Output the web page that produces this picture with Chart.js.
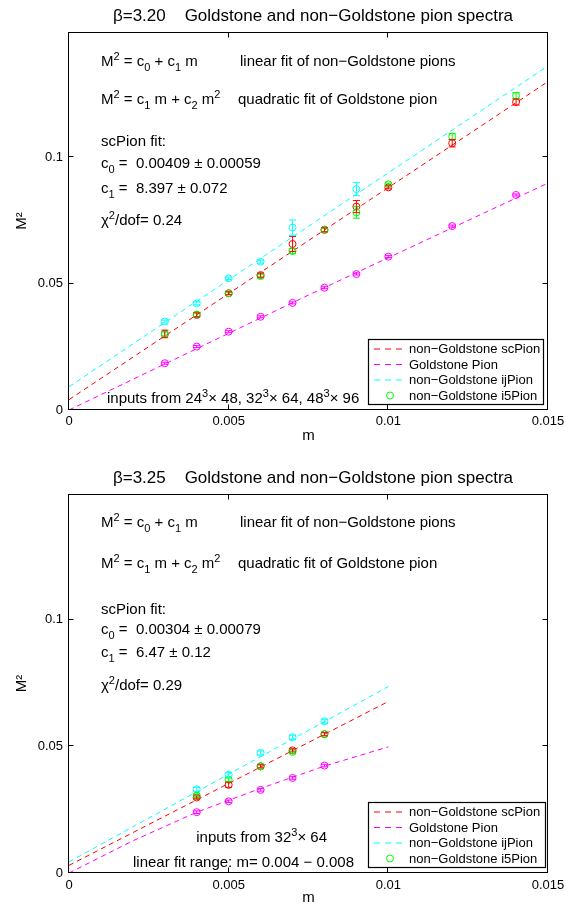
<!DOCTYPE html>
<html>
<head>
<meta charset="utf-8">
<script src="https://cdn.jsdelivr.net/npm/chart.js@4.4.1/dist/chart.umd.min.js"></script>
<style>
  html, body { margin: 0; padding: 0; background: #fff; }
  body { width: 579px; height: 907px; position: relative; overflow: hidden; }
  canvas { position: absolute; left: 0; }
  #panel320 { top: 0; }
  #panel325 { top: 462px; }
</style>
</head>
<body>
<canvas id="panel320" width="579" height="462"></canvas>
<canvas id="panel325" width="579" height="445"></canvas>
<script>
// ===== COMMON =====
const police = '"Liberation Sans", Arial, Helvetica, sans-serif'
const rouge = '#ff0000'
const magenta = '#ff00ff'
const cyan = '#00ffff'
const vert = '#00ff00'

const mTicks = [0, 0.005, 0.01, 0.015]
const m2Ticks = [0, 0.05, 0.1]

// ===== BETA 3.20 =====
const m320 = [0.003, 0.004, 0.005, 0.006, 0.007, 0.008, 0.009, 0.010, 0.012, 0.014]
const sc320 = [0.0301, 0.0376, 0.0462, 0.0534, 0.0657, 0.0713, 0.0805, 0.0881, 0.1056, 0.1219]
const scErr320 = [0.0015, 0.0008, 0.0006, 0.0008, 0.0030, 0.0008, 0.0024, 0.0006, 0.0015, 0.0012]
const i5_320 = [0.0301, 0.0378, 0.0462, 0.0530, 0.0629, 0.0713, 0.0782, 0.0893, 0.1082, 0.1244]
const i5Err320 = [0.0008, 0.0008, 0.0005, 0.0007, 0.0010, 0.0007, 0.0023, 0.0005, 0.0012, 0.0012]
const gold320 = [0.0185, 0.0251, 0.0310, 0.0369, 0.0424, 0.0484, 0.0538, 0.0607, 0.0728, 0.0851]
const goldErr320 = [0.0004, 0.0004, 0.0004, 0.0004, 0.0004, 0.0004, 0.0004, 0.0004, 0.0004, 0.0004]
const mIj320 = [0.003, 0.004, 0.005, 0.006, 0.007, 0.009]
const ij320 = [0.0350, 0.0422, 0.0521, 0.0587, 0.0722, 0.0874]
const ijErr320 = [0.0006, 0.0006, 0.0005, 0.0006, 0.0030, 0.0026]
// fit lines
const fitM320 = [0, 0.015]
const scFit320 = [0.0041, 0.1300]
const ijFit320 = [0.0092, 0.1362]
const goldFitM320 = [0, 0.0075, 0.015]
const goldFit320 = [0, 0.0455, 0.0898]

// ===== BETA 3.25 =====
const m325 = [0.004, 0.005, 0.006, 0.007, 0.008]
const sc325 = [0.0298, 0.0348, 0.0421, 0.0484, 0.0548]
const scErr325 = [0.0006, 0.0010, 0.0006, 0.0006, 0.0006]
const i5_325 = [0.0305, 0.0368, 0.0421, 0.0478, 0.0548]
const i5Err325 = [0.0007, 0.0007, 0.0007, 0.0007, 0.0007]
const gold325 = [0.0240, 0.0283, 0.0328, 0.0375, 0.0424]
const goldErr325 = [0.0005, 0.0005, 0.0005, 0.0005, 0.0005]
const ij325 = [0.0330, 0.0388, 0.0474, 0.0536, 0.0599]
const ijErr325 = [0.0008, 0.0008, 0.0008, 0.0008, 0.0008]
const fitM325 = [0, 0.01]
const scFit325 = [0.0030, 0.0677]
const ijFit325 = [0.0044, 0.0736]
const goldFitM325 = [0, 0.002, 0.004, 0.006, 0.008, 0.010]
const goldFit325 = [0, 0.0127, 0.0240, 0.0334, 0.0422, 0.0498]

// ===== HELPERS =====
function pts(ms, vals) {
    return ms.map((m, i) => ({ x: m, y: vals[i] }))
}

function ligne(label, color, ms, vals, enLegende) {
    return {
        label: label, data: pts(ms, vals), showLine: true,
        borderColor: color, borderWidth: 1, borderDash: [5, 4],
        pointRadius: 0, pointHoverRadius: 0, order: 5,
        legende: enLegende ? 'line' : null
    }
}

function marqueurs(label, color, ms, vals, errs, enLegende) {
    return {
        label: label, data: pts(ms, vals), errors: errs, showLine: false,
        borderColor: color, backgroundColor: 'rgba(0,0,0,0)', borderWidth: 1,
        pointRadius: 3.5, pointHoverRadius: 3.5, order: 1,
        legende: enLegende ? 'circle' : null
    }
}

// text with ^{..} and _{..}
function texteRiche(ctx, x, y, src, size, align) {
    const parts = []
    const re = /([_^])\{([^}]*)\}/g
    let last = 0, mt
    while ((mt = re.exec(src))) {
        if (mt.index > last) parts.push([src.slice(last, mt.index), 0])
        parts.push([mt[2], mt[1] === '^' ? -1 : 1])
        last = re.lastIndex
    }
    if (last < src.length) parts.push([src.slice(last), 0])
    const fontDe = k => (k ? Math.round(size * 0.7) : size) + 'px ' + police
    let w = 0
    parts.forEach(p => { ctx.font = fontDe(p[1]); w += ctx.measureText(p[0]).width })
    let cx = align === 'right' ? x - w : (align === 'center' ? x - w / 2 : x)
    ctx.textAlign = 'left'
    ctx.textBaseline = 'alphabetic'
    ctx.fillStyle = '#000'
    parts.forEach(p => {
        ctx.font = fontDe(p[1])
        const dy = p[1] < 0 ? -size * 0.42 : (p[1] > 0 ? size * 0.3 : 0)
        ctx.fillText(p[0], cx, y + dy)
        cx += ctx.measureText(p[0]).width
    })
}

function cadre(p) {
    return {
        id: 'cadre',
        afterDatasetsDraw(chart) {
            const ctx = chart.ctx, a = chart.chartArea
            const sx = chart.scales.x, sy = chart.scales.y
            ctx.save()
            ctx.beginPath()
            ctx.rect(a.left, a.top, a.right - a.left, a.bottom - a.top)
            ctx.clip()
            chart.data.datasets.forEach(ds => {
                if (!ds.errors) return
                ctx.strokeStyle = ds.borderColor
                ctx.lineWidth = 1
                ds.data.forEach((d, i) => {
                    const e = ds.errors[i]
                    const x = sx.getPixelForValue(d.x)
                    const y1 = sy.getPixelForValue(d.y - e)
                    const y2 = sy.getPixelForValue(d.y + e)
                    ctx.beginPath()
                    ctx.moveTo(x, y1); ctx.lineTo(x, y2)
                    ctx.moveTo(x - 3.5, y1); ctx.lineTo(x + 3.5, y1)
                    ctx.moveTo(x - 3.5, y2); ctx.lineTo(x + 3.5, y2)
                    ctx.stroke()
                })
            })
            ctx.restore()
        },
        afterDraw(chart) {
            const ctx = chart.ctx, a = chart.chartArea
            const sx = chart.scales.x, sy = chart.scales.y
            ctx.save()
            // box + inward ticks
            ctx.strokeStyle = '#000'
            ctx.lineWidth = 1
            const L = Math.round(a.left) - 0.5, R = Math.round(a.right) - 0.5
            const T = Math.round(a.top) + 0.5, B = Math.round(a.bottom) - 0.5
            ctx.strokeRect(L, T, R - L, B - T)
            ctx.beginPath()
            mTicks.forEach(v => {
                const x = Math.round(sx.getPixelForValue(v)) - 0.5
                ctx.moveTo(x, B); ctx.lineTo(x, B - 5)
                ctx.moveTo(x, T); ctx.lineTo(x, T + 5)
            })
            m2Ticks.forEach(v => {
                const y = Math.round(sy.getPixelForValue(v)) - 0.5
                ctx.moveTo(L, y); ctx.lineTo(L + 5, y)
                ctx.moveTo(R, y); ctx.lineTo(R - 5, y)
            })
            ctx.stroke()

            // title
            texteRiche(ctx, p.titreX, p.titreY, p.titre, 17, 'center')

            // annotations
            p.notes.forEach(n => texteRiche(ctx, n[1], n[2], n[0], 15, n[3] || 'left'))

            // legend
            const lg = p.legende
            const items = chart.data.datasets.filter(ds => ds.legende)
            ctx.fillStyle = '#fff'
            ctx.fillRect(lg.x, lg.y, lg.w, lg.h)
            ctx.strokeStyle = '#000'
            ctx.lineWidth = 1.2
            ctx.strokeRect(lg.x + 0.5, lg.y + 0.5, lg.w, lg.h)
            items.forEach((ds, i) => {
                const cy = lg.y + 10 + i * 15.5
                ctx.strokeStyle = ds.borderColor
                ctx.lineWidth = 1
                if (ds.legende === 'line') {
                    ctx.setLineDash([6, 5])
                    ctx.beginPath()
                    ctx.moveTo(lg.x + 6, cy); ctx.lineTo(lg.x + 39, cy)
                    ctx.stroke()
                    ctx.setLineDash([])
                } else {
                    ctx.beginPath()
                    ctx.arc(lg.x + 22, cy, 3.5, 0, Math.PI * 2)
                    ctx.stroke()
                }
                ctx.fillStyle = '#000'
                ctx.font = '13px ' + police
                ctx.textAlign = 'left'
                ctx.textBaseline = 'middle'
                ctx.fillText(ds.label, lg.x + 41, cy + 0.5)
            })
            ctx.restore()
        }
    }
}

function panneau(id, p) {
    new Chart(document.getElementById(id), {
        type: 'scatter',
        data: { datasets: p.datasets },
        options: {
            responsive: false,
            animation: false,
            events: [],
            layout: { padding: { left: 0, right: 31, top: 32, bottom: 0 } },
            plugins: { legend: { display: false }, tooltip: { enabled: false }, title: { display: false } },
            scales: {
                x: {
                    type: 'linear', min: 0, max: 0.015,
                    grid: { display: false, drawTicks: false }, border: { display: false },
                    afterBuildTicks: s => { s.ticks = mTicks.map(v => ({ value: v })) },
                    afterFit: s => { s.height = p.xHaut },
                    ticks: {
                        color: '#000', padding: p.xPad, maxRotation: 0,
                        font: { family: police, size: 13 },
                        callback: v => String(v)
                    },
                    title: {
                        display: true, text: 'm', color: '#000',
                        font: { family: police, size: 15 },
                        padding: { top: 0, bottom: p.xTitrePad }
                    }
                },
                y: {
                    type: 'linear', min: 0, max: 0.1496,
                    grid: { display: false, drawTicks: false }, border: { display: false },
                    afterBuildTicks: s => { s.ticks = m2Ticks.map(v => ({ value: v })) },
                    afterFit: s => { s.width = 69 },
                    ticks: {
                        color: '#000', padding: 6,
                        font: { family: police, size: 13 },
                        callback: v => String(v)
                    },
                    title: {
                        display: true, text: 'M²', color: '#000',
                        font: { family: police, size: 15 },
                        padding: { top: 13, bottom: 0 }
                    }
                }
            }
        },
        plugins: [cadre(p)]
    })
}

// ===== GRAPHIQUE BETA 3.20 =====
panneau('panel320', {
    xHaut: 52, xPad: 4, xTitrePad: 17,
    titre: 'β=3.20    Goldstone and non−Goldstone pion spectra', titreX: 313, titreY: 21,
    legende: { x: 368, y: 339, w: 175, h: 65 },
    notes: [
        ['M^{2} = c_{0} + c_{1} m', 101, 66],
        ['linear fit of non−Goldstone pions', 240, 66],
        ['M^{2} = c_{1} m + c_{2} m^{2}', 101, 104],
        ['quadratic fit of Goldstone pion', 238, 104],
        ['scPion fit:', 101, 146],
        ['c_{0} =  0.00409 ± 0.00059', 101, 168],
        ['c_{1} =  8.397 ± 0.072', 101, 193],
        ['χ^{2}/dof= 0.24', 101, 225],
        ['inputs from 24^{3}× 48, 32^{3}× 64, 48^{3}× 96', 107, 403]
    ],
    datasets: [
        ligne('non−Goldstone scPion', rouge, fitM320, scFit320, true),
        ligne('Goldstone Pion', magenta, goldFitM320, goldFit320, true),
        ligne('non−Goldstone ijPion', cyan, fitM320, ijFit320, true),
        marqueurs('non−Goldstone i5Pion', vert, m320, i5_320, i5Err320, true),
        marqueurs('scPion', rouge, m320, sc320, scErr320, false),
        marqueurs('Goldstone', magenta, m320, gold320, goldErr320, false),
        marqueurs('ijPion', cyan, mIj320, ij320, ijErr320, false)
    ]
})

// ===== GRAPHIQUE BETA 3.25 =====
panneau('panel325', {
    xHaut: 34, xPad: 5, xTitrePad: 0,
    titre: 'β=3.25    Goldstone and non−Goldstone pion spectra', titreX: 313, titreY: 21,
    legende: { x: 368, y: 340, w: 177, h: 65 },
    notes: [
        ['M^{2} = c_{0} + c_{1} m', 101, 65],
        ['linear fit of non−Goldstone pions', 240, 65],
        ['M^{2} = c_{1} m + c_{2} m^{2}', 101, 106],
        ['quadratic fit of Goldstone pion', 238, 106],
        ['scPion fit:', 101, 152],
        ['c_{0} =  0.00304 ± 0.00079', 101, 172],
        ['c_{1} =  6.47 ± 0.12', 101, 195],
        ['χ^{2}/dof= 0.29', 101, 228],
        ['inputs from 32^{3}× 64', 327, 380, 'right'],
        ['linear fit range: m= 0.004 − 0.008', 354, 405, 'right']
    ],
    datasets: [
        ligne('non−Goldstone scPion', rouge, fitM325, scFit325, true),
        ligne('Goldstone Pion', magenta, goldFitM325, goldFit325, true),
        ligne('non−Goldstone ijPion', cyan, fitM325, ijFit325, true),
        marqueurs('non−Goldstone i5Pion', vert, m325, i5_325, i5Err325, true),
        marqueurs('scPion', rouge, m325, sc325, scErr325, false),
        marqueurs('Goldstone', magenta, m325, gold325, goldErr325, false),
        marqueurs('ijPion', cyan, m325, ij325, ijErr325, false)
    ]
})
</script>
</body>
</html>
